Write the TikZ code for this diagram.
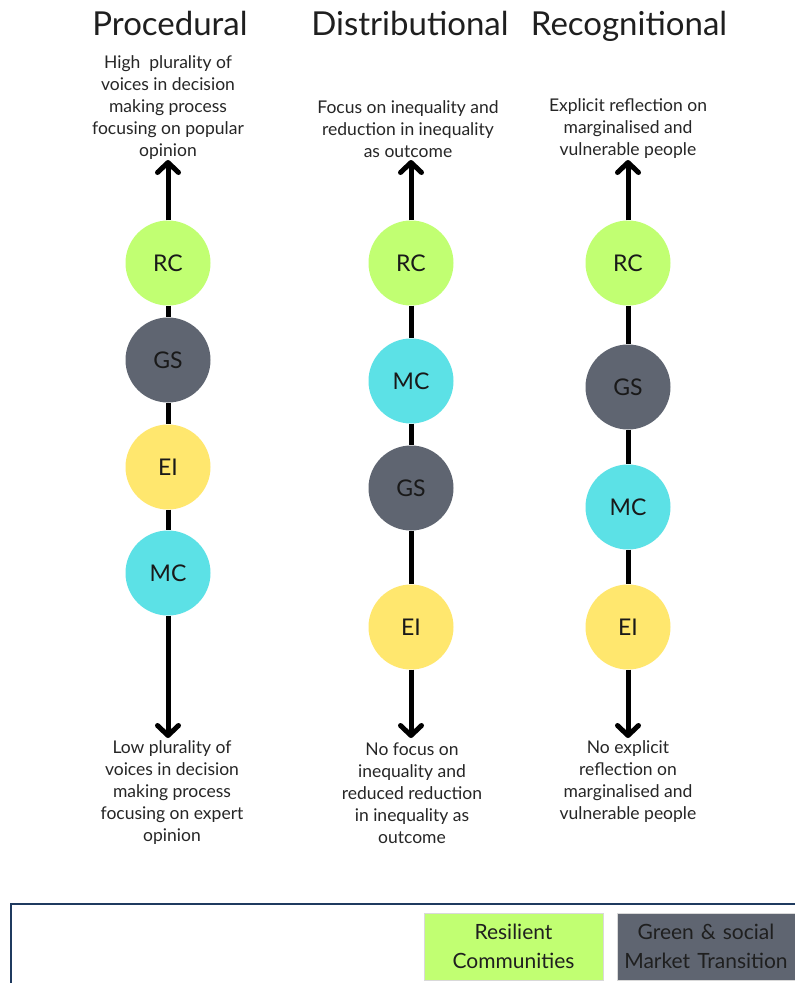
\documentclass[tikz,border=0pt]{standalone}
\usepackage{fontspec}
\setmainfont{Lato}
\usetikzlibrary{arrows.meta}
\definecolor{rcgreen}{HTML}{C1FF72}
\definecolor{gsgrey}{HTML}{5F6571}
\definecolor{mccyan}{HTML}{5CE1E6}
\definecolor{eiyellow}{HTML}{FFE76E}
\definecolor{framenavy}{HTML}{1F3A5F}
\begin{document}
\begin{tikzpicture}[x=1pt,y=-1pt,
  title/.style={font=\fontsize{33}{38}\selectfont, text=black!88, anchor=base},
  desc/.style={font=\fontsize{17.5}{22}\selectfont, align=center, text=black!85, inner sep=0pt},
  bubble/.style={circle, minimum size=85pt, inner sep=0pt, font=\fontsize{23}{26}\selectfont, text=black!90},
  axis/.style={line width=5pt, black},
  axisarrow/.style={line width=5pt, black, -{Straight Barb[round, length=10pt, width=21pt, line width=5pt]}},
  legendbox/.style={draw=black!15, line width=0.8pt, inner sep=0pt, align=center,
    font=\fontsize{21}{29}\selectfont, text=black!88}]
\clip (0,0) rectangle (795,983);
\useasboundingbox (0,0) rectangle (795,983);
\fill[white] (0,0) rectangle (795,983);

% column headings
\node[title] (tp) at (170,35) {Procedural};
\node[title] (td) at (410,35) {Distributional};
\node[title] (tr) at (629,35) {Recognitional};

% upper pole descriptions
\node[desc] (up) at (168,108) {High\ \ plurality of\\voices in decision\\making process\\focusing on popular\\opinion};
\node[desc] (ud) at (408,129) {Focus on inequality and\\reduction in inequality\\as outcome};
\node[desc] (ur) at (628,129) {Explicit reflection on\\marginalised and\\vulnerable people};

% lower pole descriptions
\node[desc] (lp) at (172,793) {Low plurality of\\voices in decision\\making process\\focusing on expert\\opinion};
\node[desc] (ld) at (412,793) {No focus on\\inequality and\\reduced reduction\\in inequality as\\outcome};
\node[desc] (lr) at (628,782) {No explicit\\reflection on\\marginalised and\\vulnerable people};

% arrow tips
\coordinate (ptop) at (168,160);
\coordinate (pbot) at (168,738);
\coordinate (dtop) at (411,160);
\coordinate (dbot) at (411,738);
\coordinate (rtop) at (628,160);
\coordinate (rbot) at (628,738);

% procedural column
\node[bubble, fill=rcgreen] (p1) at (168,263) {RC};
\node[bubble, fill=gsgrey] (p2) at (168,360) {GS};
\node[bubble, fill=eiyellow] (p3) at (168,467) {EI};
\node[bubble, fill=mccyan] (p4) at (168,573) {MC};

% distributional column
\node[bubble, fill=rcgreen] (d1) at (411,263) {RC};
\node[bubble, fill=mccyan] (d2) at (411,381) {MC};
\node[bubble, fill=gsgrey] (d3) at (411,488) {GS};
\node[bubble, fill=eiyellow] (d4) at (411,627) {EI};

% recognitional column
\node[bubble, fill=rcgreen] (r1) at (628,263) {RC};
\node[bubble, fill=gsgrey] (r2) at (628,387) {GS};
\node[bubble, fill=mccyan] (r3) at (628,507) {MC};
\node[bubble, fill=eiyellow] (r4) at (628,627) {EI};

% axes
\draw[axisarrow] (p1) -- (ptop);
\draw[axis] (p1) -- (p2);
\draw[axis] (p2) -- (p3);
\draw[axis] (p3) -- (p4);
\draw[axisarrow] (p4) -- (pbot);

\draw[axisarrow] (d1) -- (dtop);
\draw[axis] (d1) -- (d2);
\draw[axis] (d2) -- (d3);
\draw[axis] (d3) -- (d4);
\draw[axisarrow] (d4) -- (dbot);

\draw[axisarrow] (r1) -- (rtop);
\draw[axis] (r1) -- (r2);
\draw[axis] (r2) -- (r3);
\draw[axis] (r3) -- (r4);
\draw[axisarrow] (r4) -- (rbot);

% legend
\draw[framenavy, line width=2pt] (11,1000) -- (11,904) -- (810,904);
\node[legendbox, fill=rcgreen, minimum width=179pt, minimum height=67pt] (lg1) at (513.5,946.5) {Resilient\\Communities};
\node[legendbox, fill=gsgrey, minimum width=190pt, minimum height=67pt, text width=190pt] (lg2) at (712,946.5) {\hspace*{-12pt}Green \& social\\\hspace*{-12pt}Market Transition};
\end{tikzpicture}
\end{document}
